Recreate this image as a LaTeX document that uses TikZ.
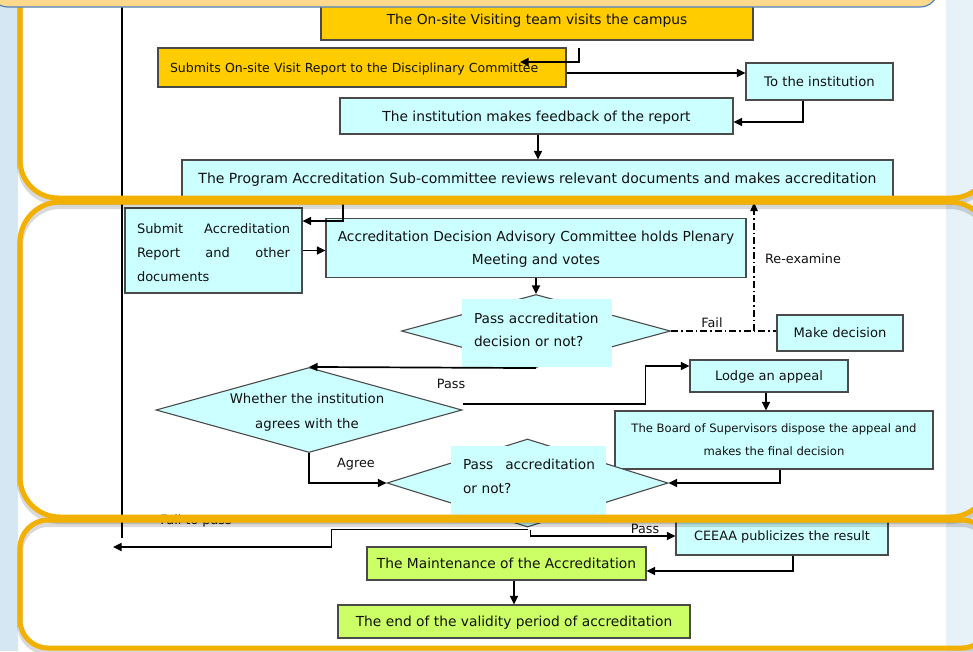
\documentclass[tikz,border=0pt]{standalone}
\usepackage{fontspec}
\setmainfont{DejaVu Sans}
\usetikzlibrary{shapes.geometric,arrows.meta}
\definecolor{ink}{HTML}{111111}
\definecolor{edge}{HTML}{4A4A4A}
\definecolor{cyanfill}{HTML}{CCFFFF}
\definecolor{gold}{HTML}{FFCC00}
\definecolor{lime}{HTML}{CCFF66}
\definecolor{frame}{HTML}{F2B100}
\definecolor{sky}{HTML}{D6E7F4}
\definecolor{skyright}{HTML}{E6F1F8}
\definecolor{peach}{HTML}{FDD98E}
\definecolor{bannerline}{HTML}{4F81BD}
\tikzset{
  box/.style={draw=edge, line width=1.1pt, text=ink, inner sep=0pt, text depth=-2.5pt, font=\fontsize{13.8}{23}\selectfont},
  cbox/.style={box, fill=cyanfill},
  obox/.style={box, fill=gold},
  gbox/.style={box, fill=lime},
  dmd/.style={diamond, draw=edge, line width=1.1pt, fill=cyanfill, inner sep=0pt},
  cover/.style={fill=cyanfill, inner sep=0pt},
  txt/.style={text=ink, inner sep=0pt, font=\fontsize{13.7}{23}\selectfont},
  arr/.style={draw=black, line width=1.7pt, -{Triangle[length=8.5pt,width=8pt]}},
  dashdot/.style={draw=black, line width=1.2pt, dash pattern=on 7pt off 3pt on 1.5pt off 3pt},
  lbl/.style={text=ink, font=\fontsize{12.8}{15}\selectfont},
  frm/.style={draw=frame, line width=5pt},
  frmshadow/.style={draw=black, opacity=0.15, line width=6pt}
}
\begin{document}
\begin{tikzpicture}[x=1pt,y=-1pt]
  % slide background
  \fill[sky] (0,0) rectangle (973,651);
  \fill[skyright] (946,0) rectangle (973,651);
  \fill[white] (18,0) rectangle (946,651);
  \useasboundingbox (0,0) rectangle (973,651);

  \draw[black, line width=1.4pt] (122,7) -- (122,538);

  % boxes
  \node[obox, minimum width=432pt, minimum height=42pt] (visit) at (537,19) {The On-site Visiting team visits the campus};
  \node[obox, font=\fontsize{12.5}{15}\selectfont, minimum width=408pt, minimum height=39pt, text width=384pt, inner xsep=12pt, align=left] (subrep) at (362,67.5) {Submits On-site Visit Report to the Disciplinary Committee};
  \node[cbox, font=\fontsize{13.2}{15}\selectfont, minimum width=147pt, minimum height=37pt] (toinst) at (819.5,81.5) {To the institution};
  \node[cbox, minimum width=393pt, minimum height=36pt] (feedback) at (536.5,116) {The institution makes feedback of the report};
  \node[cbox, font=\fontsize{14}{16}\selectfont, minimum width=711pt, minimum height=37pt] (program) at (537.5,178.5) {The Program Accreditation Sub-committee reviews relevant documents and makes accreditation};
  \node[cbox, font=\fontsize{13}{24}\selectfont, minimum width=177pt, minimum height=85pt, text width=153pt, text depth=44pt, align=left] (submitacc) at (213.5,250.5) {Submit\hfill Accreditation\\Report\hfill and\hfill other\\documents};
  \node[cbox, minimum width=420pt, minimum height=59pt, text depth=-6.5pt, align=center] (adac) at (536,248) {Accreditation Decision Advisory Committee holds Plenary\\Meeting and votes};
  \node[dmd, minimum width=269pt, minimum height=73pt] (d1) at (536,331) {};
  \node[cover, minimum width=150pt, minimum height=68pt] (d1c) at (537,333) {};
  \node[txt, align=left, text width=126pt] (d1t) at (537,329.5) {Pass accreditation\\decision or not?};
  \node[cbox, font=\fontsize{13.1}{15}\selectfont, minimum width=126pt, minimum height=36pt] (makedec) at (840,333) {Make decision};
  \node[cbox, font=\fontsize{13}{15}\selectfont, minimum width=158pt, minimum height=32pt] (lodge) at (769,376) {Lodge an appeal};
  \node[dmd, minimum width=306pt, minimum height=85pt] (d2) at (309,410) {};
  \node[txt, font=\fontsize{13.3}{25}\selectfont, align=center] (d2t) at (307,412.5) {Whether the institution\\agrees with the};
  \node[cbox, font=\fontsize{11.6}{23}\selectfont, minimum width=318pt, minimum height=58pt, text depth=-4pt, align=center] (board) at (774,440) {The Board of Supervisors dispose the appeal and\\makes the final decision};
  \node[dmd, minimum width=281pt, minimum height=88pt] (d3) at (527.5,483) {};
  \node[cover, minimum width=155pt, minimum height=77pt] (d3c) at (528.5,484.5) {};
  \node[txt, text width=132pt, align=left, font=\fontsize{13.7}{24}\selectfont] (d3t) at (529,476) {Pass\hfill accreditation\\or not?};
  \node[cbox, font=\fontsize{12.8}{15}\selectfont, minimum width=212pt, minimum height=38pt] (ceeaa) at (782,536) {CEEAA publicizes the result};
  \node[gbox, minimum width=279pt, minimum height=33pt] (maint) at (506.5,563.5) {The Maintenance of the Accreditation};
  \node[gbox, minimum width=352pt, minimum height=33pt] (endval) at (514,621.5) {The end of the validity period of accreditation};
  \coordinate (back) at (113,547);

  % connectors
  \draw[arr] ([xshift=42pt,yshift=-7pt]visit.south) |- ([xshift=158pt,yshift=5.5pt]subrep.center);
  \draw[arr] ([yshift=-5.5pt]subrep.east) -- ([yshift=-5.5pt]subrep.east -| toinst.west);
  \draw[arr] ([xshift=-16.5pt]toinst.south) |- ([yshift=-6pt]feedback.east);
  \draw[arr] ([xshift=1.5pt]feedback.south) -- ([xshift=1.5pt]feedback.south |- program.north);
  \draw[arr] ([xshift=-194.5pt]program.south) |- ([yshift=29.5pt]submitacc.east);
  \draw[arr] (submitacc.east) -- (submitacc.east -| adac.west);
  \draw[arr] (adac.south) -- (d1.north);
  \draw[dashdot] (d1.east) -- (d1.east -| makedec.west);
  \draw[dashdot, -{Triangle[length=8.5pt,width=7.5pt]}] ([xshift=83pt]d1.east) -- ([xshift=83pt,yshift=-5pt]d1.east |- program.south);
  \draw[arr] (d1.south) -- (d2.north);
  \draw[arr] ([yshift=6pt]d2.east) -- ++(183,0) |- ([yshift=10pt]lodge.west);
  \draw[arr] ([xshift=-3pt]lodge.south) -- ([xshift=-3pt]lodge.south |- board.north);
  \draw[arr] ([xshift=6pt]board.south) |- (d3.east);
  \draw[arr] (d2.south) |- (d3.west);
  \draw[arr] ([yshift=-2pt]d3.south) -- ++(-196,0) |- (back);
  \draw[arr] ([xshift=3pt,yshift=-2pt]d3.south) |- (ceeaa.west);
  \draw[arr] ([xshift=11pt]ceeaa.south) |- ([yshift=-7.5pt]maint.east);
  \draw[arr] ([xshift=7.5pt]maint.south) -- ([xshift=7.5pt]maint.south |- endval.north);

  % labels
  \node[lbl] (lfail) at (712,323) {Fail};
  \node[lbl] (lreex) at (803,259) {Re-examine};
  \node[lbl] (lpass) at (451,384) {Pass};
  \node[lbl] (lagree) at (356,464) {Agree};
  \node[lbl] (lfailpass) at (196,521) {Fail to pass};
  \node[lbl] (lpasstwo) at (645,529) {Pass};

  % slide frames
  \foreach \ya/\yb/\rad in {-40/198/38, 202/517/40, 520/648/28} {
    \draw[frmshadow, rounded corners=\rad pt] (20,\ya+4) rectangle (990,\yb+4);
    \draw[frm, rounded corners=\rad pt] (20,\ya) rectangle (990,\yb);
  }
  \draw[fill=peach, draw=bannerline, line width=1.2pt, rounded corners=18pt] (-10,-30) rectangle (938,7);
\end{tikzpicture}
\end{document}
